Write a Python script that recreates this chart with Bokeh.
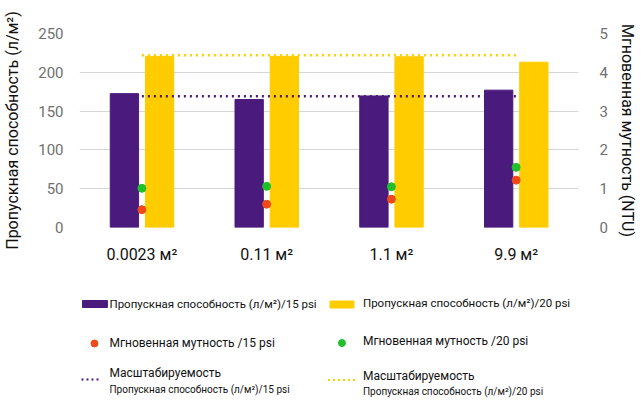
from bokeh.plotting import figure
from bokeh.models import Range1d, LinearAxis, FactorRange, ColumnDataSource
from bokeh.transform import dodge
from bokeh.layouts import column
from bokeh.core.properties import value
from bokeh.embed import file_html
from bokeh.resources import INLINE

# ---- data ----
categories = ["0.0023 м²", "0.11 м²", "1.1 м²", "9.9 м²"]
throughput_15 = [172.5, 165, 169.5, 177]
throughput_20 = [220.5, 220.5, 220, 213]
turbidity_15 = [0.46, 0.60, 0.73, 1.22]
turbidity_20 = [1.01, 1.06, 1.05, 1.55]
scalability_15 = 169
scalability_20 = 222
left_ticks = [0, 50, 100, 150, 200, 250]
right_ticks = [0, 1, 2, 3, 4, 5]
left_title = "Пропускная способность (л/м²)"
right_title = "Мгновенная мутность (NTU)"
legend_bar15 = "Пропускная способность (л/м²)/15 psi"
legend_bar20 = "Пропускная способность (л/м²)/20 psi"
legend_dot15 = "Мгновенная мутность /15 psi"
legend_dot20 = "Мгновенная мутность /20 psi"
legend_scale = "Масштабируемость"

PURPLE = "#4a1a7c"
YELLOW = "#ffcc00"
RED = "#f04a1c"
GREEN = "#20bf2c"
FONT = "Roboto"

W = 643
BL, BR = 78, 65
H1 = 276

src = ColumnDataSource(dict(cat=categories, t15=throughput_15, t20=throughput_20,
                            n15=turbidity_15, n20=turbidity_20))

p = figure(width=W, height=H1, x_range=FactorRange(*categories),
           y_range=Range1d(0, 250), min_border_left=BL, min_border_right=BR,
           min_border_top=33, min_border_bottom=49,
           toolbar_location=None, output_backend="svg")
p.extra_y_ranges = {"ntu": Range1d(0, 5)}
p.outline_line_color = None
p.xgrid.grid_line_color = None
p.ygrid.grid_line_color = "#d6d6d6"
p.ygrid.grid_line_width = 1.2

p.vbar(x=dodge("cat", -0.14, range=p.x_range), top="t15", width=0.227,
       color=PURPLE, source=src)
p.vbar(x=dodge("cat", 0.142, range=p.x_range), top="t20", width=0.227,
       color=YELLOW, source=src)

p.segment(x0=[categories[0]], y0=[scalability_20], x1=[categories[-1]], y1=[scalability_20],
          line_color=YELLOW, line_width=2.5, line_dash="2 4")
p.segment(x0=[categories[0]], y0=[scalability_15], x1=[categories[-1]], y1=[scalability_15],
          line_color=PURPLE, line_width=2.5, line_dash="2 4")

p.scatter(x="cat", y="n20", size=8, color=GREEN, y_range_name="ntu", source=src)
p.scatter(x="cat", y="n15", size=8, color=RED, y_range_name="ntu", source=src)

ya = p.yaxis[0]
ya.ticker = left_ticks
ya.axis_label = left_title
xa = p.xaxis[0]
ra = LinearAxis(y_range_name="ntu", ticker=right_ticks, axis_label=right_title)
p.add_layout(ra, "right")

for ax in (ya, ra):
    ax.axis_line_color = None
    ax.major_tick_line_color = None
    ax.minor_tick_line_color = None
    ax.major_label_text_font = FONT
    ax.major_label_text_font_size = "15px"
    ax.major_label_text_color = "#707070"
    ax.axis_label_text_font = FONT
    ax.axis_label_text_font_size = "16px"
    ax.axis_label_text_font_style = "normal"
    ax.axis_label_text_color = "#111111"
ya.major_label_standoff = 10
ya.axis_label_standoff = 13
ra.major_label_standoff = 15
ra.axis_label_standoff = 7

xa.axis_line_color = None
xa.major_tick_line_color = None
xa.major_label_text_font = FONT
xa.major_label_text_font_size = "16px"
xa.major_label_text_color = "#111111"
xa.major_label_standoff = 11

# ---- legend panel (coordinates in page pixels) ----
H2 = 402 - H1
L = figure(width=W, height=H2, x_range=Range1d(BL, W - BR), y_range=Range1d(402, H1),
           x_axis_type=None, y_axis_type=None, min_border_left=BL, min_border_right=BR,
           min_border_top=0, min_border_bottom=0,
           toolbar_location=None, output_backend="svg")
L.outline_line_color = None
L.grid.visible = False

L.rect(x=[93.5], y=[303.5], width=25, height=7, color=PURPLE)
L.rect(x=[341], y=[304], width=24, height=7, color=YELLOW)
L.scatter(x=[93], y=[343], size=7, color=RED)
L.scatter(x=[341], y=[342.5], size=7, color=GREEN)
L.segment(x0=[80], y0=[379], x1=[100], y1=[379], line_color=PURPLE, line_width=2, line_dash="2 3")
L.segment(x0=[327], y0=[379.5], x1=[355], y1=[379.5], line_color=YELLOW, line_width=2, line_dash="2 3")

row1_src = ColumnDataSource(dict(x=[108, 362], y=[303, 302], t=[legend_bar15, legend_bar20]))
L.text(x="x", y="y", text="t", source=row1_src, text_font=value(FONT),
       text_font_size="11.5px", text_baseline="middle", text_align="left", text_color="#111111")
row23_src = ColumnDataSource(dict(
    x=[108, 362, 108, 362],
    y=[342, 340, 372, 375],
    t=[legend_dot15, legend_dot20, legend_scale, legend_scale]))
L.text(x="x", y="y", text="t", source=row23_src, text_font=value(FONT),
       text_font_size="12px", text_baseline="middle", text_align="left", text_color="#111111")
sub_src = ColumnDataSource(dict(x=[108, 362], y=[389, 391], t=[legend_bar15, legend_bar20]))
L.text(x="x", y="y", text="t", source=sub_src, text_font=value(FONT),
       text_font_size="10px", text_baseline="middle", text_align="left", text_color="#111111")

layout = column(p, L, spacing=0)
open("out.html", "w").write(file_html(layout, INLINE))
